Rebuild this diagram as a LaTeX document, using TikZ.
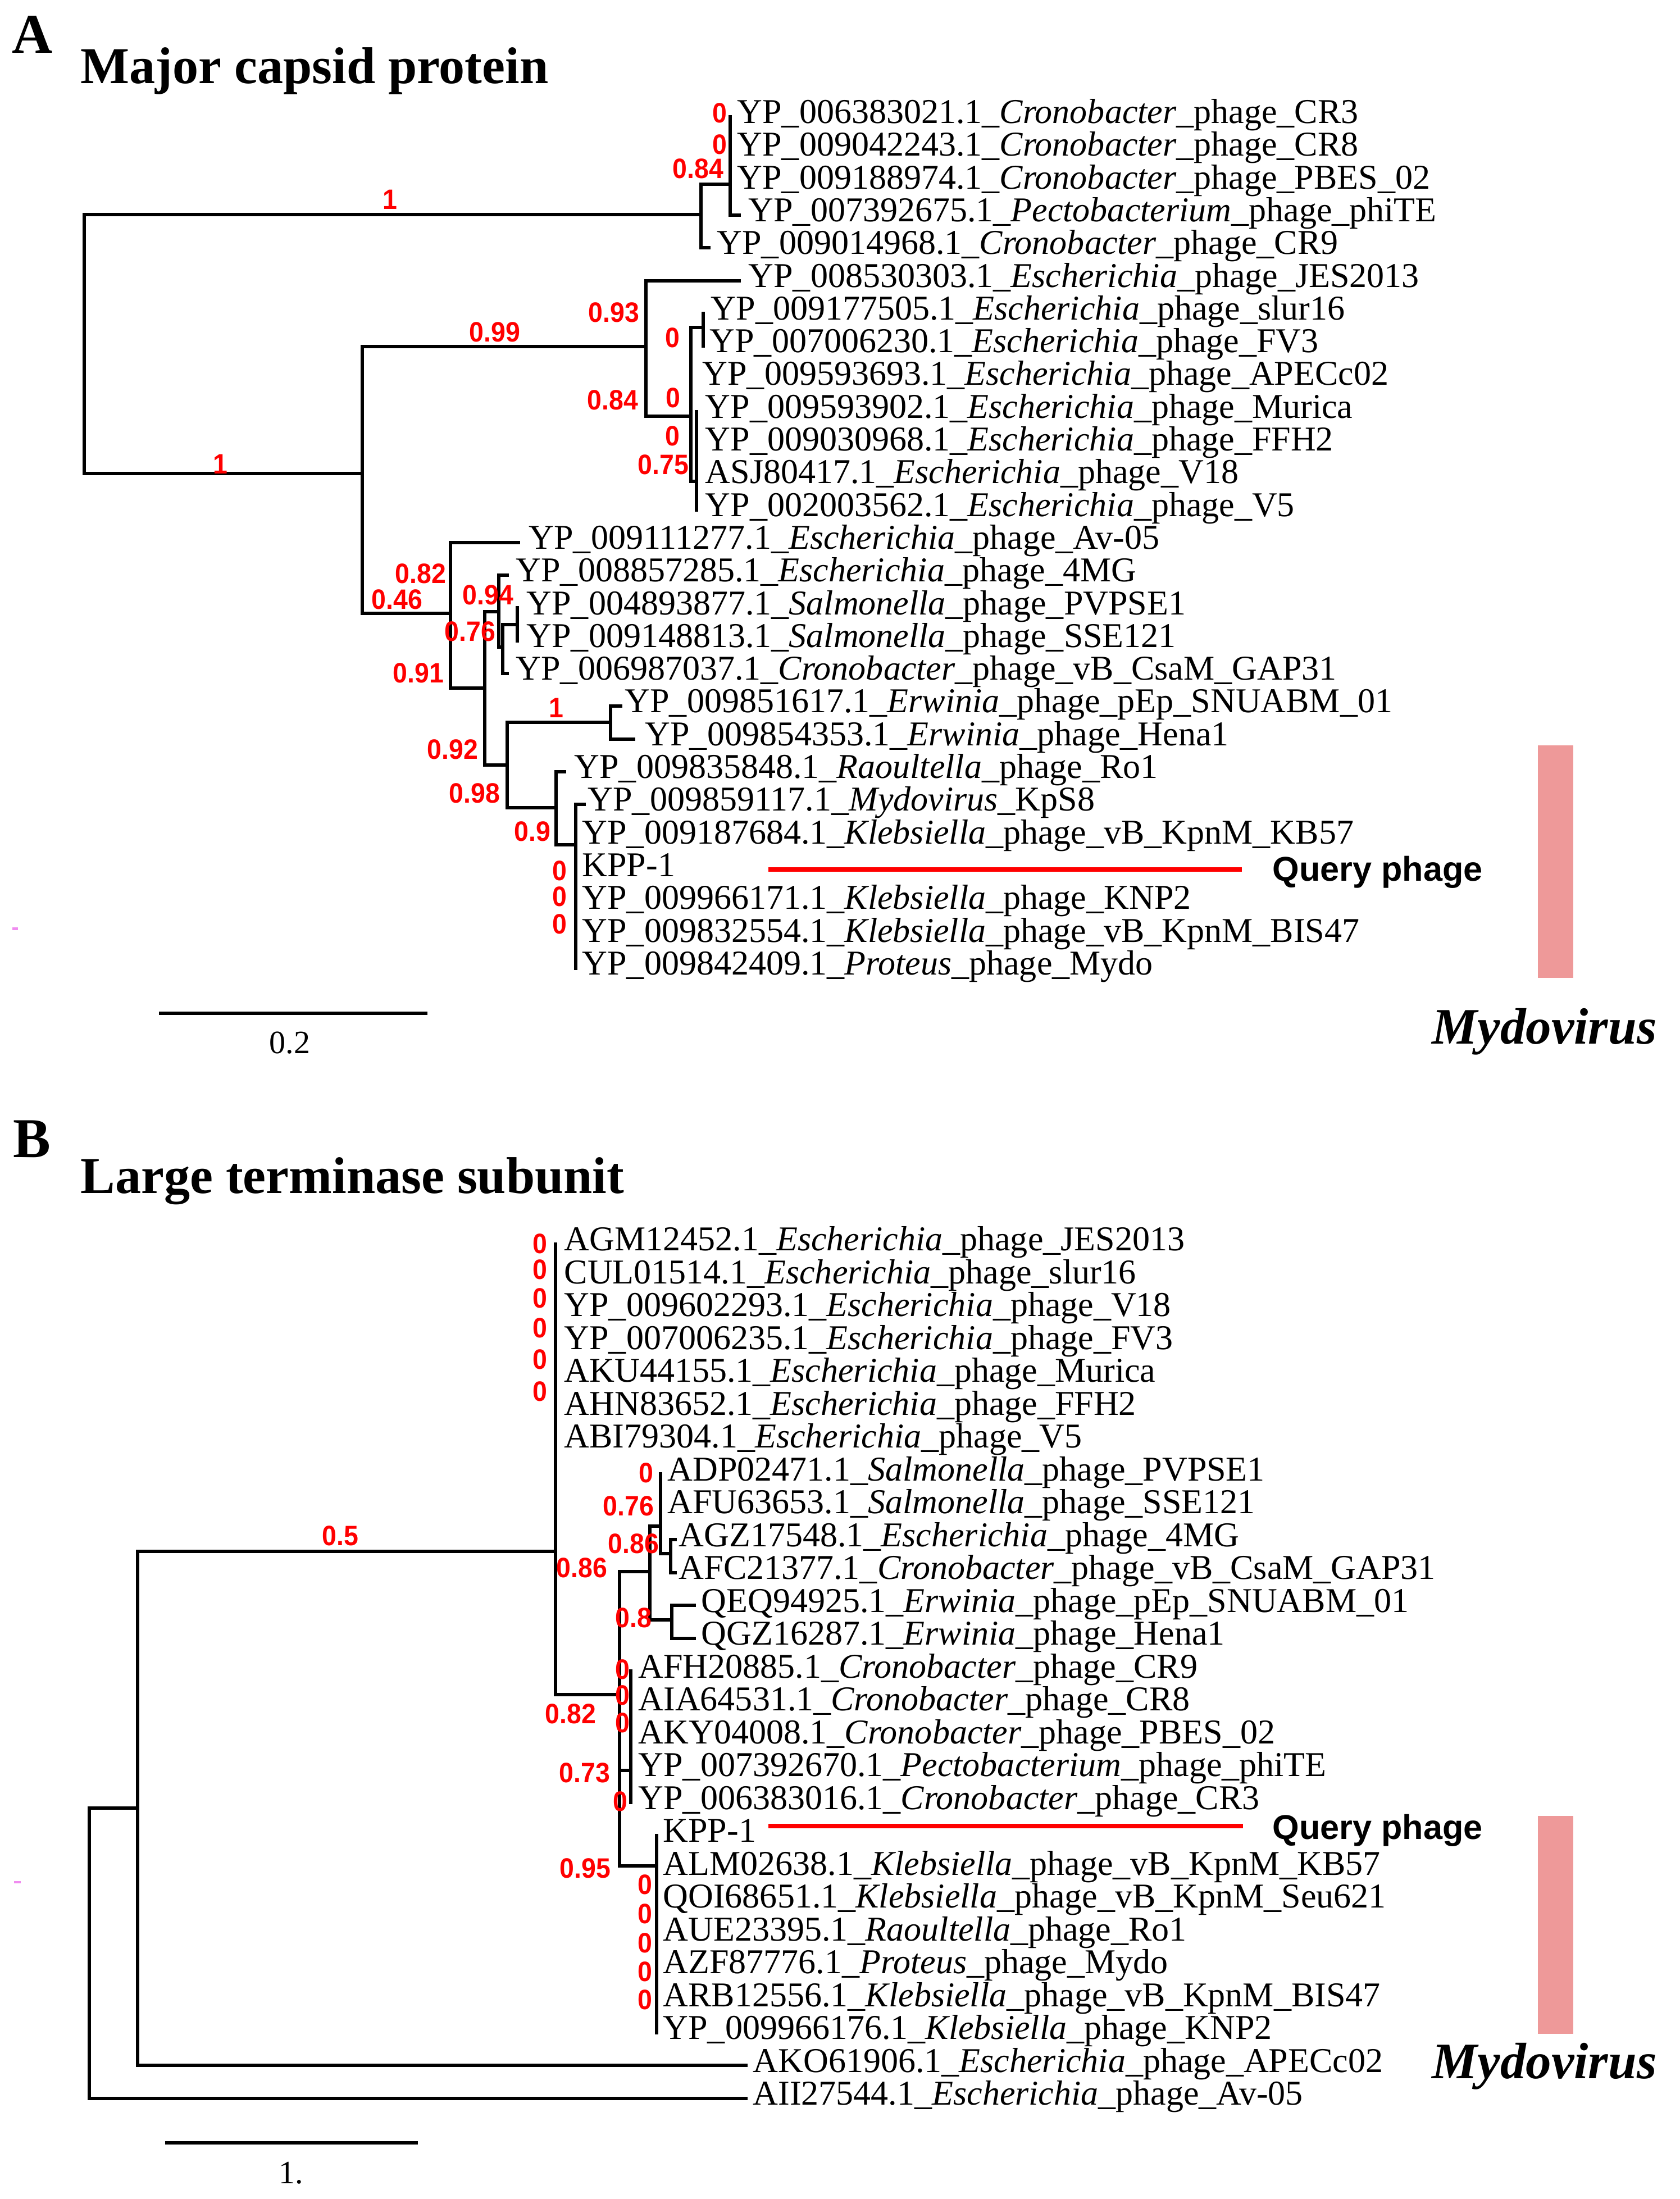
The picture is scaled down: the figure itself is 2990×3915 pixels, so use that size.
\documentclass[tikz,border=0pt]{standalone}
\usepackage{fontspec}
\setmainfont{Liberation Serif}
\newfontfamily\labf{Liberation Serif}
\newfontfamily\numf[FakeStretch=0.93]{Liberation Sans}
\newfontfamily\qf{Liberation Sans}
\newfontfamily\titf{Liberation Serif}
\definecolor{mydo}{RGB}{238,153,153}
\definecolor{artf}{RGB}{240,140,240}
\begin{document}
\begin{tikzpicture}[x=0.01cm,y=-0.01cm,
  brl/.style={line width=1.7pt,line cap=rect},
  lab/.style={anchor=base west,inner sep=0pt,yshift=-0.02cm,font=\labf\fontsize{17.64pt}{19pt}\selectfont},
  num/.style={inner sep=0pt,text=red,font=\numf\bfseries\fontsize{14.2pt}{16pt}\selectfont},
  panel/.style={anchor=base west,inner sep=0pt,font=\bfseries\fontsize{28.45pt}{30pt}\selectfont},
  ttl/.style={anchor=base west,inner sep=0pt,font=\titf\bfseries\fontsize{26.2pt}{28pt}\selectfont},
  myd/.style={anchor=base west,inner sep=0pt,font=\bfseries\itshape\fontsize{25.9pt}{28pt}\selectfont},
  qry/.style={anchor=base west,inner sep=0pt,font=\qf\bfseries\fontsize{17.4pt}{19pt}\selectfont},
  scl/.style={anchor=base,inner sep=0pt,font=\fontsize{16.5pt}{18pt}\selectfont},
  qline/.style={red,line width=2.3pt},
  sbar/.style={line width=1.8pt}]
\useasboundingbox (0,0) rectangle (2990,3915);
\fill[white] (0,0) rectangle (2990,3915);

% ================= PANEL A =================
\node[panel] (pA) at (21,95) {A};
\node[ttl] (tA) at (143,149) {Major capsid protein};

% internal nodes
\coordinate (a0) at (150,600);
\coordinate (a1) at (1248,382);
\coordinate (a2) at (1300,328);
\coordinate (aX) at (645,843);
\coordinate (aY) at (1150,617);
\coordinate (aZ) at (1230,741);
\coordinate (aZ1) at (1252,583);
\coordinate (aW) at (1240,857);
\coordinate (aP) at (802,1092);
\coordinate (aQ) at (863,1225);
\coordinate (aR) at (888,1089);
\coordinate (aR2) at (895,1152);
\coordinate (aR3) at (921,1112);
\coordinate (aS) at (903,1362);
\coordinate (aE) at (1087,1286);
\coordinate (aT) at (990,1438);
\coordinate (aU) at (1025,1504);
% tips
\coordinate (ta1) at (1300,208);
\coordinate (ta2) at (1300,266);
\coordinate (ta3) at (1300,325);
\coordinate (ta4) at (1316,383);
\coordinate (ta5) at (1262,441);
\coordinate (ta6) at (1316,500);
\coordinate (ta7) at (1252,558);
\coordinate (ta8) at (1252,616);
\coordinate (ta9) at (1230,674);
\coordinate (ta10) at (1240,733);
\coordinate (ta11) at (1240,791);
\coordinate (ta12) at (1240,849);
\coordinate (ta13) at (1240,908);
\coordinate (ta14) at (923,966);
\coordinate (ta15) at (903,1024);
\coordinate (ta16) at (921,1082);
\coordinate (ta17) at (921,1141);
\coordinate (ta18) at (903,1199);
\coordinate (ta19) at (1105,1257);
\coordinate (ta20) at (1128,1316);
\coordinate (ta21) at (1005,1374);
\coordinate (ta22) at (1040,1432);
\coordinate (ta23) at (1025,1491);
\coordinate (ta24) at (1025,1549);
\coordinate (ta25) at (1025,1607);
\coordinate (ta26) at (1025,1665);
\coordinate (ta27) at (1025,1724);

\draw[brl] (a0) |- (a1);
\draw[brl] (a0) |- (aX);
\draw[brl] (a1) |- (a2);
\draw[brl] (a1) |- (ta5);
\draw[brl] (a2) |- (ta1);
\draw[brl] (a2) |- (ta2);
\draw[brl] (a2) |- (ta3);
\draw[brl] (a2) |- (ta4);
\draw[brl] (aX) |- (aY);
\draw[brl] (aX) |- (aP);
\draw[brl] (aY) |- (ta6);
\draw[brl] (aY) |- (aZ);
\draw[brl] (aZ) |- (aZ1);
\draw[brl] (aZ) |- (ta9);
\draw[brl] (aZ) |- (aW);
\draw[brl] (aZ1) |- (ta7);
\draw[brl] (aZ1) |- (ta8);
\draw[brl] (aW) |- (ta10);
\draw[brl] (aW) |- (ta11);
\draw[brl] (aW) |- (ta12);
\draw[brl] (aW) |- (ta13);
\draw[brl] (aP) |- (ta14);
\draw[brl] (aP) |- (aQ);
\draw[brl] (aQ) |- (aR);
\draw[brl] (aQ) |- (aS);
\draw[brl] (aR) |- (ta15);
\draw[brl] (aR) |- (aR2);
\draw[brl] (aR2) |- (aR3);
\draw[brl] (aR2) |- (ta18);
\draw[brl] (aR3) |- (ta16);
\draw[brl] (aR3) |- (ta17);
\draw[brl] (aS) |- (aE);
\draw[brl] (aS) |- (aT);
\draw[brl] (aE) |- (ta19);
\draw[brl] (aE) |- (ta20);
\draw[brl] (aT) |- (ta21);
\draw[brl] (aT) |- (aU);
\draw[brl] (aU) |- (ta22);
\draw[brl] (aU) |- (ta23);
\draw[brl] (aU) |- (ta24);
\draw[brl] (aU) |- (ta25);
\draw[brl] (aU) |- (ta26);
\draw[brl] (aU) |- (ta27);

% leaf labels A
\node[lab] (la1) at (1312,217) {YP\_006383021.1\_\textit{Cronobacter}\_phage\_CR3};
\node[lab] (la2) at (1312,275) {YP\_009042243.1\_\textit{Cronobacter}\_phage\_CR8};
\node[lab] (la3) at (1312,334) {YP\_009188974.1\_\textit{Cronobacter}\_phage\_PBES\_02};
\node[lab] (la4) at (1332,392) {YP\_007392675.1\_\textit{Pectobacterium}\_phage\_phiTE};
\node[lab] (la5) at (1276,450) {YP\_009014968.1\_\textit{Cronobacter}\_phage\_CR9};
\node[lab] (la6) at (1332,509) {YP\_008530303.1\_\textit{Escherichia}\_phage\_JES2013};
\node[lab] (la7) at (1265,567) {YP\_009177505.1\_\textit{Escherichia}\_phage\_slur16};
\node[lab] (la8) at (1263,625) {YP\_007006230.1\_\textit{Escherichia}\_phage\_FV3};
\node[lab] (la9) at (1250,683) {YP\_009593693.1\_\textit{Escherichia}\_phage\_APECc02};
\node[lab] (la10) at (1255,742) {YP\_009593902.1\_\textit{Escherichia}\_phage\_Murica};
\node[lab] (la11) at (1255,800) {YP\_009030968.1\_\textit{Escherichia}\_phage\_FFH2};
\node[lab] (la12) at (1255,858) {ASJ80417.1\_\textit{Escherichia}\_phage\_V18};
\node[lab] (la13) at (1255,917) {YP\_002003562.1\_\textit{Escherichia}\_phage\_V5};
\node[lab] (la14) at (941,975) {YP\_009111277.1\_\textit{Escherichia}\_phage\_Av-05};
\node[lab] (la15) at (918,1033) {YP\_008857285.1\_\textit{Escherichia}\_phage\_4MG};
\node[lab] (la16) at (937,1092) {YP\_004893877.1\_\textit{Salmonella}\_phage\_PVPSE1};
\node[lab] (la17) at (937,1150) {YP\_009148813.1\_\textit{Salmonella}\_phage\_SSE121};
\node[lab] (la18) at (918,1208) {YP\_006987037.1\_\textit{Cronobacter}\_phage\_vB\_CsaM\_GAP31};
\node[lab] (la19) at (1112,1266) {YP\_009851617.1\_\textit{Erwinia}\_phage\_pEp\_SNUABM\_01};
\node[lab] (la20) at (1148,1325) {YP\_009854353.1\_\textit{Erwinia}\_phage\_Hena1};
\node[lab] (la21) at (1022,1383) {YP\_009835848.1\_\textit{Raoultella}\_phage\_Ro1};
\node[lab] (la22) at (1046,1441) {YP\_009859117.1\_\textit{Mydovirus}\_KpS8};
\node[lab] (la23) at (1036,1500) {YP\_009187684.1\_\textit{Klebsiella}\_phage\_vB\_KpnM\_KB57};
\node[lab] (la24) at (1036,1558) {KPP-1};
\node[lab] (la25) at (1036,1616) {YP\_009966171.1\_\textit{Klebsiella}\_phage\_KNP2};
\node[lab] (la26) at (1036,1675) {YP\_009832554.1\_\textit{Klebsiella}\_phage\_vB\_KpnM\_BIS47};
\node[lab] (la27) at (1036,1733) {YP\_009842409.1\_\textit{Proteus}\_phage\_Mydo};

% support values A
\node[num] (na1) at (694,355) {1};
\node[num] (na2) at (392,826) {1};
\node[num] (na3) at (881,591) {0.99};
\node[num] (na4) at (1281,201) {0};
\node[num] (na5) at (1281,257) {0};
\node[num] (na6) at (1243,300) {0.84};
\node[num] (na7) at (1093,556) {0.93};
\node[num] (na8) at (1091,712) {0.84};
\node[num] (na9) at (1197,601) {0};
\node[num] (na10) at (1198,708) {0};
\node[num] (na11) at (1197,776) {0};
\node[num] (na12) at (1181,827) {0.75};
\node[num] (na13) at (749,1021) {0.82};
\node[num] (na14) at (707,1067) {0.46};
\node[num] (na15) at (745,1198) {0.91};
\node[num] (na16) at (869,1059) {0.94};
\node[num] (na17) at (837,1124) {0.76};
\node[num] (na18) at (806,1334) {0.92};
\node[num] (na19) at (845,1412) {0.98};
\node[num] (na20) at (990,1260) {1};
\node[num] (na21) at (948,1480) {0.9};
\node[num] (na22) at (996,1550) {0};
\node[num] (na23) at (996,1596) {0};
\node[num] (na24) at (996,1645) {0};

% query phage A
\coordinate (qa1) at (1368,1548);
\coordinate (qa2) at (2211,1548);
\draw[qline] (qa1) -- (qa2);
\node[qry] (qA) at (2265,1568) {Query phage};
% Mydovirus bar A
\fill[mydo] (2738,1327) rectangle (2801,1741);
\node[myd] (mA) at (2549,1858) {Mydovirus};
% scale A
\coordinate (sa1) at (283,1804);
\coordinate (sa2) at (761,1804);
\draw[sbar] (sa1) -- (sa2);
\node[scl] (sA) at (516,1875) {0.2};
\fill[artf] (22,1651) rectangle (32,1656);

% ================= PANEL B =================
\node[panel] (pB) at (23,2060) {B};
\node[ttl] (tB) at (143,2124) {Large terminase subunit};

\coordinate (b0) at (159,3500);
\coordinate (b1) at (245,3219);
\coordinate (b2) at (989,2762);
\coordinate (b3) at (1103,3017);
\coordinate (b4) at (1157,2798);
\coordinate (b5) at (1176,2717);
\coordinate (b6) at (1194,2766);
\coordinate (b7) at (1196,2884);
\coordinate (b9) at (1123,3152);
\coordinate (b8) at (1169,3322);

\coordinate (tb1) at (989,2215);
\coordinate (tb2) at (989,2273);
\coordinate (tb3) at (989,2332);
\coordinate (tb4) at (989,2390);
\coordinate (tb5) at (989,2449);
\coordinate (tb6) at (989,2507);
\coordinate (tb7) at (989,2566);
\coordinate (tb8) at (1176,2624);
\coordinate (tb9) at (1176,2683);
\coordinate (tb10) at (1202,2741);
\coordinate (tb11) at (1202,2800);
\coordinate (tb12) at (1236,2858);
\coordinate (tb13) at (1236,2917);
\coordinate (tb14) at (1123,2975);
\coordinate (tb15) at (1123,3034);
\coordinate (tb16) at (1123,3092);
\coordinate (tb17) at (1123,3151);
\coordinate (tb18) at (1123,3209);
\coordinate (tb19) at (1169,3268);
\coordinate (tb20) at (1169,3326);
\coordinate (tb21) at (1169,3385);
\coordinate (tb22) at (1169,3443);
\coordinate (tb23) at (1169,3502);
\coordinate (tb24) at (1169,3560);
\coordinate (tb25) at (1169,3619);
\coordinate (tb26) at (1328,3677);
\coordinate (tb27) at (1328,3736);

\draw[brl] (b0) |- (b1);
\draw[brl] (b0) |- (tb27);
\draw[brl] (b1) |- (b2);
\draw[brl] (b1) |- (tb26);
\draw[brl] (b2) |- (tb1);
\draw[brl] (b2) |- (tb2);
\draw[brl] (b2) |- (tb3);
\draw[brl] (b2) |- (tb4);
\draw[brl] (b2) |- (tb5);
\draw[brl] (b2) |- (tb6);
\draw[brl] (b2) |- (tb7);
\draw[brl] (b2) |- (b3);
\draw[brl] (b3) |- (b4);
\draw[brl] (b3) |- (b9);
\draw[brl] (b3) |- (b8);
\draw[brl] (b4) |- (b5);
\draw[brl] (b4) |- (b7);
\draw[brl] (b5) |- (tb8);
\draw[brl] (b5) |- (tb9);
\draw[brl] (b5) |- (b6);
\draw[brl] (b6) |- (tb10);
\draw[brl] (b6) |- (tb11);
\draw[brl] (b7) |- (tb12);
\draw[brl] (b7) |- (tb13);
\draw[brl] (b9) |- (tb14);
\draw[brl] (b9) |- (tb15);
\draw[brl] (b9) |- (tb16);
\draw[brl] (b9) |- (tb17);
\draw[brl] (b9) |- (tb18);
\draw[brl] (b8) |- (tb19);
\draw[brl] (b8) |- (tb20);
\draw[brl] (b8) |- (tb21);
\draw[brl] (b8) |- (tb22);
\draw[brl] (b8) |- (tb23);
\draw[brl] (b8) |- (tb24);
\draw[brl] (b8) |- (tb25);

\node[lab] (lb1) at (1004,2224) {AGM12452.1\_\textit{Escherichia}\_phage\_JES2013};
\node[lab] (lb2) at (1004,2283) {CUL01514.1\_\textit{Escherichia}\_phage\_slur16};
\node[lab] (lb3) at (1004,2341) {YP\_009602293.1\_\textit{Escherichia}\_phage\_V18};
\node[lab] (lb4) at (1004,2400) {YP\_007006235.1\_\textit{Escherichia}\_phage\_FV3};
\node[lab] (lb5) at (1004,2458) {AKU44155.1\_\textit{Escherichia}\_phage\_Murica};
\node[lab] (lb6) at (1004,2517) {AHN83652.1\_\textit{Escherichia}\_phage\_FFH2};
\node[lab] (lb7) at (1004,2575) {ABI79304.1\_\textit{Escherichia}\_phage\_V5};
\node[lab] (lb8) at (1188,2634) {ADP02471.1\_\textit{Salmonella}\_phage\_PVPSE1};
\node[lab] (lb9) at (1188,2692) {AFU63653.1\_\textit{Salmonella}\_phage\_SSE121};
\node[lab] (lb10) at (1208,2751) {AGZ17548.1\_\textit{Escherichia}\_phage\_4MG};
\node[lab] (lb11) at (1208,2809) {AFC21377.1\_\textit{Cronobacter}\_phage\_vB\_CsaM\_GAP31};
\node[lab] (lb12) at (1248,2868) {QEQ94925.1\_\textit{Erwinia}\_phage\_pEp\_SNUABM\_01};
\node[lab] (lb13) at (1248,2926) {QGZ16287.1\_\textit{Erwinia}\_phage\_Hena1};
\node[lab] (lb14) at (1136,2985) {AFH20885.1\_\textit{Cronobacter}\_phage\_CR9};
\node[lab] (lb15) at (1136,3043) {AIA64531.1\_\textit{Cronobacter}\_phage\_CR8};
\node[lab] (lb16) at (1136,3102) {AKY04008.1\_\textit{Cronobacter}\_phage\_PBES\_02};
\node[lab] (lb17) at (1136,3160) {YP\_007392670.1\_\textit{Pectobacterium}\_phage\_phiTE};
\node[lab] (lb18) at (1136,3219) {YP\_006383016.1\_\textit{Cronobacter}\_phage\_CR3};
\node[lab] (lb19) at (1180,3277) {KPP-1};
\node[lab] (lb20) at (1180,3336) {ALM02638.1\_\textit{Klebsiella}\_phage\_vB\_KpnM\_KB57};
\node[lab] (lb21) at (1180,3394) {QOI68651.1\_\textit{Klebsiella}\_phage\_vB\_KpnM\_Seu621};
\node[lab] (lb22) at (1180,3453) {AUE23395.1\_\textit{Raoultella}\_phage\_Ro1};
\node[lab] (lb23) at (1180,3511) {AZF87776.1\_\textit{Proteus}\_phage\_Mydo};
\node[lab] (lb24) at (1180,3570) {ARB12556.1\_\textit{Klebsiella}\_phage\_vB\_KpnM\_BIS47};
\node[lab] (lb25) at (1180,3628) {YP\_009966176.1\_\textit{Klebsiella}\_phage\_KNP2};
\node[lab] (lb26) at (1340,3687) {AKO61906.1\_\textit{Escherichia}\_phage\_APECc02};
\node[lab] (lb27) at (1340,3745) {AII27544.1\_\textit{Escherichia}\_phage\_Av-05};

\node[num] (nb1) at (606,2734) {0.5};
\node[num] (nb2) at (961,2214) {0};
\node[num] (nb3) at (961,2260) {0};
\node[num] (nb4) at (961,2311) {0};
\node[num] (nb5) at (961,2364) {0};
\node[num] (nb6) at (961,2420) {0};
\node[num] (nb7) at (961,2477) {0};
\node[num] (nb8) at (1036,2791) {0.86};
\node[num] (nb9) at (1150,2622) {0};
\node[num] (nb10) at (1119,2681) {0.76};
\node[num] (nb11) at (1128,2748) {0.86};
\node[num] (nb12) at (1128,2880) {0.8};
\node[num] (nb13) at (1016,3051) {0.82};
\node[num] (nb14) at (1108,2972) {0};
\node[num] (nb15) at (1108,3018) {0};
\node[num] (nb16) at (1108,3067) {0};
\node[num] (nb17) at (1104,3207) {0};
\node[num] (nb18) at (1041,3156) {0.73};
\node[num] (nb19) at (1042,3326) {0.95};
\node[num] (nb20) at (1148,3355) {0};
\node[num] (nb21) at (1148,3407) {0};
\node[num] (nb22) at (1148,3459) {0};
\node[num] (nb23) at (1148,3510) {0};
\node[num] (nb24) at (1148,3560) {0};

\coordinate (qb1) at (1368,3251);
\coordinate (qb2) at (2213,3251);
\draw[qline] (qb1) -- (qb2);
\node[qry] (qB) at (2265,3274) {Query phage};
\fill[mydo] (2738,3233) rectangle (2801,3621);
\node[myd] (mB) at (2549,3700) {Mydovirus};
\coordinate (sb1) at (294,3815);
\coordinate (sb2) at (744,3815);
\draw[sbar] (sb1) -- (sb2);
\node[scl] (sB) at (518,3887) {1.};
\fill[artf] (25,3349) rectangle (37,3353);
\end{tikzpicture}
\end{document}
